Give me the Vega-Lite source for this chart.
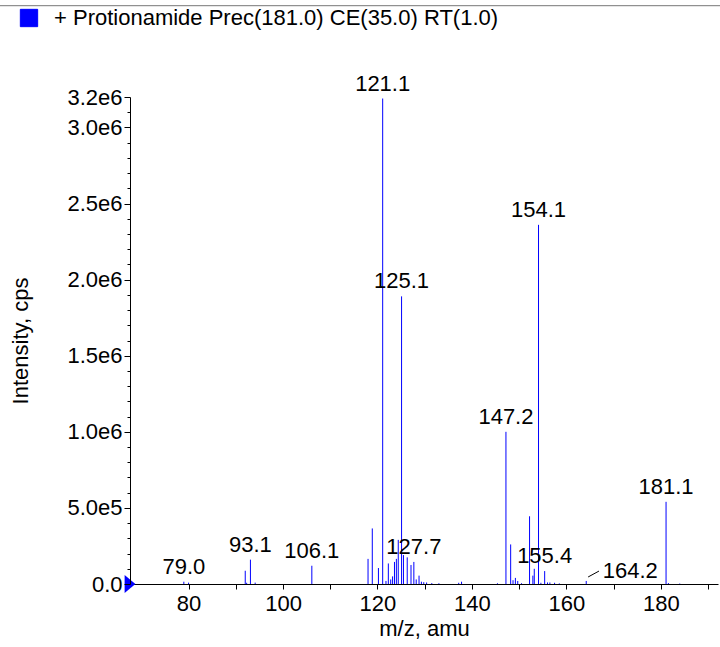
{
  "$schema": "https://vega.github.io/schema/vega-lite/v6.json",
  "width": 588,
  "height": 487,
  "autosize": {"type": "none"},
  "padding": {"left": 130, "top": 97, "right": 2, "bottom": 63},
  "config": {
    "view": {"stroke": null},
    "font": "Liberation Sans",
    "axis": {
      "domainColor": "#000000",
      "tickColor": "#000000",
      "labelColor": "#000000",
      "titleColor": "#000000",
      "labelFont": "Liberation Sans",
      "titleFont": "Liberation Sans",
      "labelFontSize": 22,
      "titleFontSize": 22,
      "titleFontWeight": "normal",
      "grid": false
    }
  },
  "datasets": {
    "peaks": [
      {"mz": 79.0, "intensity": 15000, "label": "79.0"},
      {"mz": 80.0, "intensity": 9000, "label": null},
      {"mz": 92.0, "intensity": 87000, "label": null},
      {"mz": 92.3, "intensity": 8000, "label": null},
      {"mz": 93.1, "intensity": 160000, "label": "93.1"},
      {"mz": 94.1, "intensity": 9000, "label": null},
      {"mz": 106.1, "intensity": 120000, "label": "106.1"},
      {"mz": 118.0, "intensity": 165000, "label": null},
      {"mz": 118.9, "intensity": 365000, "label": null},
      {"mz": 120.2, "intensity": 105000, "label": null},
      {"mz": 121.1, "intensity": 3190000, "label": "121.1"},
      {"mz": 121.8, "intensity": 20000, "label": null},
      {"mz": 122.3, "intensity": 135000, "label": null},
      {"mz": 122.8, "intensity": 30000, "label": null},
      {"mz": 123.2, "intensity": 50000, "label": null},
      {"mz": 123.6, "intensity": 145000, "label": null},
      {"mz": 124.0, "intensity": 165000, "label": null},
      {"mz": 124.4, "intensity": 290000, "label": null},
      {"mz": 125.1, "intensity": 1890000, "label": "125.1"},
      {"mz": 125.5, "intensity": 190000, "label": null},
      {"mz": 126.3, "intensity": 175000, "label": null},
      {"mz": 127.1, "intensity": 125000, "label": null},
      {"mz": 127.7, "intensity": 145000, "label": "127.7"},
      {"mz": 128.2, "intensity": 30000, "label": null},
      {"mz": 128.8, "intensity": 55000, "label": null},
      {"mz": 129.3, "intensity": 15000, "label": null},
      {"mz": 129.8, "intensity": 12000, "label": null},
      {"mz": 130.4, "intensity": 10000, "label": null},
      {"mz": 131.5, "intensity": 6000, "label": null},
      {"mz": 133.0, "intensity": 5000, "label": null},
      {"mz": 137.2, "intensity": 8000, "label": null},
      {"mz": 137.8, "intensity": 15000, "label": null},
      {"mz": 145.4, "intensity": 5000, "label": null},
      {"mz": 147.2, "intensity": 1000000, "label": "147.2"},
      {"mz": 148.2, "intensity": 260000, "label": null},
      {"mz": 148.7, "intensity": 25000, "label": null},
      {"mz": 149.2, "intensity": 40000, "label": null},
      {"mz": 149.7, "intensity": 20000, "label": null},
      {"mz": 150.5, "intensity": 5000, "label": null},
      {"mz": 152.2, "intensity": 445000, "label": null},
      {"mz": 152.9, "intensity": 55000, "label": null},
      {"mz": 153.2, "intensity": 100000, "label": null},
      {"mz": 154.1, "intensity": 2360000, "label": "154.1"},
      {"mz": 154.6, "intensity": 8000, "label": null},
      {"mz": 155.4, "intensity": 85000, "label": "155.4"},
      {"mz": 156.0, "intensity": 10000, "label": null},
      {"mz": 156.5, "intensity": 10000, "label": null},
      {"mz": 157.5, "intensity": 8000, "label": null},
      {"mz": 158.5, "intensity": 4000, "label": null},
      {"mz": 164.2, "intensity": 20000, "label": "164.2"},
      {"mz": 181.1, "intensity": 540000, "label": "181.1"},
      {"mz": 181.6, "intensity": 6000, "label": null},
      {"mz": 184.0, "intensity": 3000, "label": null}
    ],
    "leader": [{"x": 164.6, "x2": 166.9, "y": 46000, "y2": 85000}],
    "frame": [{"x": 39, "x2": 193, "y": 3800000}],
    "marker": [{"x": 67.6, "y": 0}]
  },
  "resolve": {"axis": {"y": "independent"}},
  "layer": [
    {
      "data": {"name": "peaks"},
      "transform": [{"calculate": "'+ Protionamide Prec(181.0) CE(35.0) RT(1.0)'", "as": "series"}],
      "mark": {"type": "rule", "strokeWidth": 1},
      "encoding": {
        "x": {
          "field": "mz", "type": "quantitative",
          "scale": {"domain": [67.6, 192.1], "nice": false, "zero": false},
          "axis": {
            "title": "m/z, amu",
            "values": [80, 90, 100, 110, 120, 130, 140, 150, 160, 170, 180, 190],
            "labelExpr": "datum.value % 20 == 0 ? datum.label : ''",
            "tickSize": 5,
            "labelPadding": 4,
            "titlePadding": 4,
            "labelFlush": false,
            "labelOverlap": false
          }
        },
        "y": {
          "field": "intensity", "type": "quantitative",
          "scale": {"domain": [0, 3200000], "nice": false},
          "axis": {
            "orient": "left",
            "title": "Intensity, cps",
            "values": [0, 500000, 1000000, 1500000, 2000000, 2500000, 3000000, 3200000],
            "labelExpr": "datum.value == 0 ? '0.0' : (datum.value < 1000000 ? format(datum.value / 100000, '.1f') + 'e5' : format(datum.value / 1000000, '.1f') + 'e6')",
            "tickSize": 6,
            "labelPadding": 2,
            "titlePadding": 34,
            "labelFlush": false,
            "labelOverlap": false,
            "zindex": 1
          }
        },
        "y2": {"datum": 0},
        "color": {
          "field": "series", "type": "nominal",
          "scale": {"range": ["#0000ff"]},
          "legend": {
            "title": null,
            "orient": "none",
            "legendX": -112,
            "legendY": -90,
            "labelFontSize": 22,
            "labelFont": "Liberation Sans",
            "labelColor": "#000000",
            "labelLimit": 700,
            "labelOffset": 14,
            "symbolType": "square",
            "symbolSize": 300,
            "symbolFillColor": "#0000ff",
            "symbolStrokeColor": "#333333",
            "symbolStrokeWidth": 1,
            "symbolOpacity": 1,
            "encode": {
              "symbols": {"update": {"fill": {"value": "#0000ff"}, "stroke": {"value": "#333333"}, "strokeWidth": {"value": 1}, "shape": {"value": "square"}, "size": {"value": 300}}}
            }
          }
        }
      }
    },
    {
      "data": {"name": "frame"},
      "mark": {"type": "rule", "color": "#777777", "strokeWidth": 1, "clip": false},
      "encoding": {
        "x": {"field": "x", "type": "quantitative"},
        "x2": {"field": "x2"},
        "y": {
          "field": "y", "type": "quantitative",
          "axis": {
            "orient": "left",
            "values": [100000, 200000, 300000, 400000, 600000, 700000, 800000, 900000, 1100000, 1200000, 1300000, 1400000, 1600000, 1700000, 1800000, 1900000, 2100000, 2200000, 2300000, 2400000, 2600000, 2700000, 2800000, 2900000, 3100000],
            "labels": false,
            "domain": false,
            "tickSize": 3,
            "title": null,
            "offset": 0
          }
        }
      }
    },
    {
      "data": {"name": "leader"},
      "mark": {"type": "rule", "color": "#000000", "strokeWidth": 1},
      "encoding": {
        "x": {"field": "x", "type": "quantitative"},
        "x2": {"field": "x2"},
        "y": {"field": "y", "type": "quantitative", "axis": null},
        "y2": {"field": "y2"}
      }
    },
    {
      "data": {"name": "peaks"},
      "transform": [{"filter": "datum.label != null && datum.label != '164.2'"}],
      "mark": {"type": "text", "baseline": "bottom", "align": "center", "dy": -3, "fontSize": 22, "font": "Liberation Sans", "color": "#000000", "clip": false},
      "encoding": {
        "x": {"field": "mz", "type": "quantitative"},
        "y": {"field": "intensity", "type": "quantitative", "axis": null},
        "text": {"field": "label"}
      }
    },
    {
      "data": {"name": "peaks"},
      "transform": [{"filter": "datum.label == '164.2'"}],
      "mark": {"type": "text", "baseline": "bottom", "align": "center", "dx": 44, "dy": 2, "fontSize": 22, "font": "Liberation Sans", "color": "#000000"},
      "encoding": {
        "x": {"field": "mz", "type": "quantitative"},
        "y": {"field": "intensity", "type": "quantitative", "axis": null},
        "text": {"field": "label"}
      }
    },
    {
      "data": {"name": "marker"},
      "mark": {"type": "point", "shape": "M-0.6,-1L0.6,0L-0.6,1Z", "size": 324, "filled": true, "color": "#0000ff", "opacity": 1, "clip": false},
      "encoding": {
        "x": {"field": "x", "type": "quantitative"},
        "y": {"field": "y", "type": "quantitative", "axis": null}
      }
    }
  ]
}
